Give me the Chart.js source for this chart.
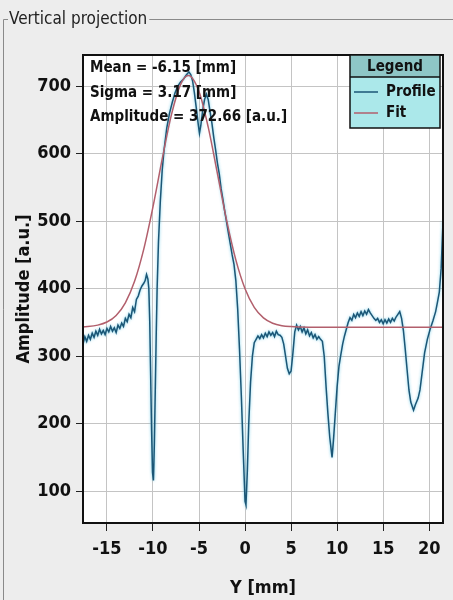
<!DOCTYPE html>
<html>
<head>
<meta charset="utf-8">
<title>Vertical projection</title>
<script src="https://cdn.jsdelivr.net/npm/chart.js@4.4.1/dist/chart.umd.min.js"></script>
<style>
  html, body { margin: 0; padding: 0; background: #ededed; }
  canvas { display: block; }
</style>
</head>
<body>
<canvas id="myChart" width="453" height="600"></canvas>
<script>
// measured profile, Y position in mm
const profileY = [
    -17.6, -17.4, -17.2, -17.0, -16.8, -16.6, -16.4, -16.2, -16.0, -15.8,
    -15.6, -15.4, -15.2, -15.0, -14.8, -14.6, -14.4, -14.2, -14.0, -13.8,
    -13.6, -13.4, -13.2, -13.0, -12.8, -12.6, -12.4, -12.2, -12.0, -11.8,
    -11.6, -11.4, -11.2, -11.0, -10.85, -10.7, -10.55, -10.45, -10.35, -10.25,
    -10.15, -10.05, -9.95, -9.85, -9.75, -9.65, -9.55, -9.4, -9.2, -9.0,
    -8.8, -8.5, -8.2, -7.9, -7.6, -7.3, -7.0, -6.7, -6.4, -6.1,
    -5.9, -5.7, -5.5, -5.3, -5.1, -4.95, -4.8, -4.6, -4.4, -4.2,
    -4.0, -3.8, -3.6, -3.4, -3.2, -3.0, -2.8, -2.6, -2.4, -2.2,
    -2.0, -1.8, -1.6, -1.4, -1.2, -1.0, -0.8, -0.6, -0.4, -0.2,
    0.0, 0.1, 0.25, 0.4, 0.6, 0.8, 1.0, 1.2, 1.4, 1.6,
    1.8, 2.0, 2.2, 2.4, 2.6, 2.8, 3.0, 3.2, 3.4, 3.6,
    3.8, 4.0, 4.2, 4.4, 4.6, 4.8, 5.0, 5.2, 5.4, 5.6,
    5.8, 6.0, 6.2, 6.4, 6.6, 6.8, 7.0, 7.2, 7.4, 7.6,
    7.8, 8.0, 8.2, 8.4, 8.6, 8.8, 9.0, 9.2, 9.45, 9.6,
    9.8, 10.0, 10.2, 10.4, 10.6, 10.8, 11.0, 11.2, 11.4, 11.6,
    11.8, 12.0, 12.2, 12.4, 12.6, 12.8, 13.0, 13.2, 13.4, 13.6,
    13.8, 14.0, 14.2, 14.4, 14.6, 14.8, 15.0, 15.2, 15.4, 15.6,
    15.8, 16.0, 16.2, 16.4, 16.6, 16.8, 17.0, 17.2, 17.4, 17.6,
    17.8, 18.0, 18.3, 18.5, 18.8, 19.0, 19.2, 19.5, 19.8, 20.1,
    20.4, 20.7, 20.9, 21.1, 21.3, 21.5
];
// measured profile, amplitude in a.u.
const profileAmp = [
    318, 329, 322, 331, 325, 334, 328, 337, 331, 340,
    333, 338, 332, 341, 336, 344, 337, 342, 335, 346,
    341, 349, 344, 356, 351, 362, 357, 372, 366, 384,
    389, 398, 404, 408, 412, 421, 414, 400, 350, 270,
    190, 128, 116, 170, 250, 330, 400, 470, 530, 575,
    605, 638, 660, 676, 690, 700, 706, 710, 716, 721,
    717, 708, 690, 668, 645, 630, 642, 664, 680, 688,
    680, 662, 645, 624, 606, 586, 570, 548, 532, 514,
    498, 482, 466, 450, 436, 412, 370, 310, 240, 160,
    85, 80, 130, 200, 262, 300, 320, 325, 330, 326,
    332, 327, 334, 329, 336, 331, 335, 329, 337, 332,
    331, 328, 318, 300, 282, 274, 278, 305, 336, 346,
    339, 344, 336, 342, 333, 339, 330, 335, 327, 332,
    325, 329, 325, 322, 300, 255, 215, 180, 150, 175,
    215, 255, 285, 302, 318, 330, 340, 350, 357, 353,
    362, 357, 364, 359, 366, 360, 367, 362, 369, 364,
    360, 356, 353, 356, 350, 354, 348, 354, 349, 355,
    350, 356, 352, 358, 362, 366, 356, 338, 310, 280,
    250, 232, 220, 228, 238, 250, 272, 305, 325, 340,
    352, 366, 380, 395, 430, 500
];

// gaussian fit: mean -6.15 mm, sigma 3.17 mm, amplitude 372.66 a.u. over a 343 a.u. baseline
const fitY = [
    -17.6, -16, -15, -14, -13, -12, -11, -10, -9, -8,
    -7, -6.15, -5, -4, -3, -2, -1, 0, 1, 2,
    3, 4, 5, 6, 8, 21.5
];
const fitAmp = [
    343.4, 346.0, 350.6, 360.4, 379.1, 410.9, 458.6, 521.2, 591.8, 657.3,
    702.5, 715.7, 691.9, 639.1, 570.5, 501.2, 442.6, 399.8, 372.3, 356.7,
    348.8, 345.2, 343.8, 343.3, 343.0, 343.0
];

// axis ticks
const xTicks = [-15, -10, -5, 0, 5, 10, 15, 20];
const yTicks = [100, 200, 300, 400, 500, 600, 700];

const profileColor = '#1b5676';
const fitColor = '#b25f6c';
const condFont = '"DejaVu Sans Condensed", "DejaVu Sans", sans-serif';

function points(xs, ys) {
    return xs.map((x, i) => ({ x: x, y: ys[i] }));
}

// light cyan halo around the profile trace
const glow = {
    id: 'glow',
    beforeDatasetDraw(chart, args) {
        if (args.index === 0) {
            chart.ctx.save();
            chart.ctx.shadowColor = 'rgba(100, 200, 230, 0.9)';
            chart.ctx.shadowBlur = 3;
        }
    },
    afterDatasetDraw(chart, args) {
        if (args.index === 0) chart.ctx.restore();
    }
};

// titled panel border, white plot area, fit parameters and legend box
const decor = {
    id: 'decor',
    beforeDraw(chart) {
        const c = chart.ctx;
        const a = chart.chartArea;
        c.save();
        c.fillStyle = '#ededed';
        c.fillRect(0, 0, chart.width, chart.height);

        c.font = '17px ' + condFont;
        c.fillStyle = '#222';
        c.textBaseline = 'middle';
        c.fillText('Vertical projection', 9, 20);
        const tw = c.measureText('Vertical projection').width;

        c.strokeStyle = '#8a8a8a';
        c.lineWidth = 1;
        c.beginPath();
        c.moveTo(3.5, 600);
        c.lineTo(3.5, 19.5);
        c.lineTo(8, 19.5);
        c.moveTo(11 + tw, 19.5);
        c.lineTo(453, 19.5);
        c.stroke();

        c.fillStyle = '#ffffff';
        c.fillRect(a.left, a.top, a.right - a.left, a.bottom - a.top);
        c.restore();
    },
    afterDraw(chart) {
        const c = chart.ctx;
        const a = chart.chartArea;
        c.save();
        c.strokeStyle = '#111';
        c.lineWidth = 2;
        c.strokeRect(a.left, a.top, a.right - a.left, a.bottom - a.top);

        // fit parameters
        c.font = 'bold 15px ' + condFont;
        c.fillStyle = '#111';
        c.textBaseline = 'middle';
        c.fillText('Mean = -6.15 [mm]', 90, 68);
        c.fillText('Sigma = 3.17 [mm]', 90, 93);
        c.fillText('Amplitude = 372.66 [a.u.]', 90, 117);

        // legend
        const lx = 350, ly = 55, lw = 90, lh = 73, hh = 22;
        c.fillStyle = '#8ec6c6';
        c.fillRect(lx, ly, lw, hh);
        c.fillStyle = '#abe8ea';
        c.fillRect(lx, ly + hh, lw, lh - hh);
        c.strokeStyle = '#111';
        c.lineWidth = 1.5;
        c.strokeRect(lx, ly, lw, lh);
        c.beginPath();
        c.moveTo(lx, ly + hh);
        c.lineTo(lx + lw, ly + hh);
        c.stroke();

        c.fillStyle = '#111';
        c.textAlign = 'center';
        c.fillText('Legend', lx + lw / 2, ly + hh / 2 + 1);
        c.textAlign = 'left';
        const rows = [['Profile', profileColor, 92], ['Fit', fitColor, 113]];
        rows.forEach(r => {
            c.strokeStyle = r[1];
            c.lineWidth = 1.5;
            c.beginPath();
            c.moveTo(lx + 4, r[2]);
            c.lineTo(lx + 28, r[2]);
            c.stroke();
            c.fillText(r[0], lx + 36, r[2]);
        });
        c.restore();
    }
};

const tickFont = { family: condFont, size: 18, weight: 'bold' };

var ctx = document.getElementById('myChart').getContext('2d');
var myChart = new Chart(ctx, {
    type: 'line',
    data: {
        datasets: [
            {
                label: 'Profile',
                data: points(profileY, profileAmp),
                borderColor: profileColor,
                borderWidth: 1.5,
                pointRadius: 0,
                tension: 0,
                order: 1
            },
            {
                label: 'Fit',
                data: points(fitY, fitAmp),
                borderColor: fitColor,
                borderWidth: 1.5,
                pointRadius: 0,
                cubicInterpolationMode: 'monotone',
                order: 0
            }
        ]
    },
    options: {
        responsive: false,
        animation: false,
        layout: { padding: { top: 55, right: 10, left: 0, bottom: 0 } },
        plugins: {
            legend: { display: false },
            tooltip: { enabled: false }
        },
        scales: {
            x: {
                type: 'linear',
                min: -17.6,
                max: 21.5,
                afterBuildTicks(scale) {
                    scale.ticks = xTicks.map(v => ({ value: v }));
                },
                ticks: {
                    color: '#111',
                    font: tickFont,
                    padding: 8,
                    maxRotation: 0
                },
                grid: { color: '#c4c4c4', tickColor: '#222', tickLength: 8 },
                border: { color: '#111', width: 2 },
                title: {
                    display: true,
                    text: 'Y [mm]',
                    color: '#111',
                    font: tickFont,
                    padding: { top: 0, bottom: 1 }
                },
                afterFit(scale) { scale.height = 77; }
            },
            y: {
                min: 53,
                max: 746,
                afterBuildTicks(scale) {
                    scale.ticks = yTicks.map(v => ({ value: v }));
                },
                ticks: {
                    color: '#111',
                    font: tickFont,
                    padding: 5
                },
                grid: { color: '#c4c4c4', tickColor: '#222', tickLength: 7 },
                border: { color: '#111', width: 2 },
                title: {
                    display: true,
                    text: 'Amplitude [a.u.]',
                    color: '#111',
                    font: tickFont,
                    padding: { top: 14, bottom: 0 }
                },
                afterFit(scale) { scale.width = 83; }
            }
        }
    },
    plugins: [decor, glow]
});
</script>
</body>
</html>
